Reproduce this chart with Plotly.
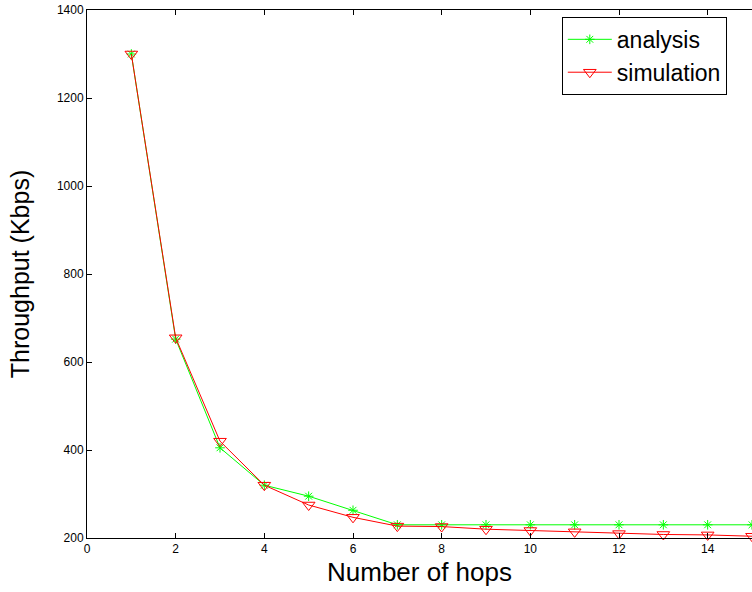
import plotly.graph_objects as go

hops = list(range(1, 16))
analysis = [1300, 652, 405, 320, 295, 263, 230, 230, 230, 230, 230, 230, 230, 230, 230]
simulation = [1300, 655, 420, 320, 275, 247, 227, 226, 220, 217, 214, 210, 208, 207, 204]
x_ticks = [0, 2, 4, 6, 8, 10, 12, 14]
y_ticks = [200, 400, 600, 800, 1000, 1200, 1400]

fig = go.Figure()
fig.add_trace(go.Scatter(
    x=hops, y=analysis, name="analysis", mode="lines+markers",
    line=dict(color="#00ff00", width=1),
    marker=dict(symbol="asterisk-open", size=8, color="#00ff00", line=dict(color="#00ff00", width=1)),
    cliponaxis=False,
))
fig.add_trace(go.Scatter(
    x=hops, y=simulation, name="simulation", mode="lines+markers",
    line=dict(color="#ff0000", width=1),
    marker=dict(symbol="triangle-down-open", size=11, color="#ff0000", line=dict(color="#ff0000", width=1)),
    cliponaxis=False,
))

fig.update_layout(
    width=752, height=592,
    margin=dict(l=87, r=0, t=10, b=54),
    paper_bgcolor="white", plot_bgcolor="white",
    font=dict(family="Liberation Sans, Arial, sans-serif", color="black"),
    showlegend=True,
    legend=dict(
        x=0.714, y=0.987, xanchor="left", yanchor="top",
        bordercolor="black", borderwidth=1, bgcolor="white",
        font=dict(size=23, family="Liberation Sans, Arial, sans-serif"),
        tracegroupgap=0, itemwidth=44,
    ),
    xaxis=dict(
        range=[0, 15], tickvals=x_ticks, ticks="inside", ticklen=5, tickcolor="black",
        showline=True, linecolor="black", linewidth=1, mirror="ticks",
        showgrid=False, zeroline=False,
        tickfont=dict(size=12),
        title=dict(text="Number of hops", font=dict(size=26), standoff=7),
    ),
    yaxis=dict(
        range=[200, 1400], tickvals=y_ticks, ticks="inside", ticklen=5, tickcolor="black",
        showline=True, linecolor="black", linewidth=1, mirror=False,
        showgrid=False, zeroline=False,
        tickfont=dict(size=12),
        title=dict(text="Throughput (Kbps)", font=dict(size=25), standoff=20),
    ),
)

fig.write_html("out.html")
